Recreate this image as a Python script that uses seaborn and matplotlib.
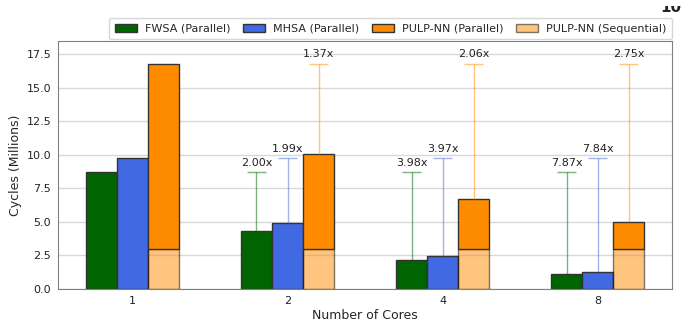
import numpy as np
import matplotlib
matplotlib.use("Agg")
import matplotlib.pyplot as plt
import seaborn as sns
from matplotlib.patches import Patch
from matplotlib.transforms import Bbox, TransformedBbox

# Cycle counts (millions) per number of cores
cores = ["1", "2", "4", "8"]
fwsa_parallel = [8.70, 4.35, 2.19, 1.11]
mhsa_parallel = [9.75, 4.90, 2.46, 1.24]
pulp_total = [16.80, 10.07, 6.69, 5.00]
pulp_sequential = [3.00, 3.00, 3.00, 3.00]

# Speed-up labels for 2, 4 and 8 cores
fwsa_speedup = ["2.00x", "3.98x", "7.87x"]
mhsa_speedup = ["1.99x", "3.97x", "7.84x"]
pulp_speedup = ["1.37x", "2.06x", "2.75x"]

sns.set_style("white")
plt.rcParams["font.family"] = ["DejaVu Sans"]
plt.rcParams["font.size"] = 8

fig = plt.figure(figsize=(6.91, 3.26), dpi=100)
ax = fig.add_axes([0.084, 0.1135, 0.8885, 0.7605])

idx = np.arange(len(cores))
bw = 0.2
edge = "#333333"
c_fwsa, c_mhsa, c_pulp = "darkgreen", "royalblue", "darkorange"

common = dict(native_scale=True, width=bw, orient="x", errorbar=None,
              saturation=1, linewidth=1, ax=ax)
sns.barplot(x=idx - bw, y=fwsa_parallel, color=c_fwsa, edgecolor=edge, **common)
sns.barplot(x=idx, y=mhsa_parallel, color=c_mhsa, edgecolor=edge, **common)
sns.barplot(x=idx + bw, y=pulp_sequential, color=c_pulp, edgecolor="black",
            alpha=0.5, **common)
sns.barplot(x=idx + bw, y=np.subtract(pulp_total, pulp_sequential),
            bottom=pulp_sequential, color=c_pulp, edgecolor=edge, **common)

# Speed-up whiskers: from each multi-core bar up to the single-core value
cap = 0.062
for off, vals, labels, col in [(-bw, fwsa_parallel, fwsa_speedup, c_fwsa),
                               (0.0, mhsa_parallel, mhsa_speedup, c_mhsa),
                               (bw, pulp_total, pulp_speedup, c_pulp)]:
    xs = idx[1:] + off
    base = vals[0]
    ax.vlines(xs, vals[1:], base, color=col, alpha=0.5, lw=1, zorder=1)
    ax.hlines([base] * len(xs), xs - cap, xs + cap, color=col, alpha=0.5, lw=1, zorder=1)
    for x, lab in zip(xs, labels):
        ax.annotate(lab, (x, base), xytext=(0, 3), textcoords="offset points",
                    ha="center", va="bottom", fontsize=8, color="#222222")

ax.set_xticks(idx, cores)
ax.set_ylim(0, max(pulp_total) * 1.1)
ax.set_xlim(-0.48, 3.48)
ax.set_xlabel("Number of Cores", fontsize=9, labelpad=2)
ax.set_ylabel("Cycles (Millions)", fontsize=9, labelpad=3)
ax.yaxis.grid(True, color="#d9d9d9", lw=1)
ax.set_axisbelow(True)
for s in ax.spines.values():
    s.set_color("#808080")
ax.tick_params(axis="both", length=3.5, width=0.8, color="#808080", colors="#222222",
               labelsize=8, pad=1.5)

handles = [Patch(facecolor=c_fwsa, edgecolor=edge, label="FWSA (Parallel)"),
           Patch(facecolor=c_mhsa, edgecolor=edge, label="MHSA (Parallel)"),
           Patch(facecolor=c_pulp, edgecolor=edge, label="PULP-NN (Parallel)"),
           Patch(facecolor=c_pulp, edgecolor="black", alpha=0.5,
                 label="PULP-NN (Sequential)")]
ax.legend(handles=handles, ncol=4, loc="lower right", bbox_to_anchor=(1.0, 1.008),
          borderaxespad=0, frameon=True, fontsize=8, columnspacing=1.15,
          handletextpad=0.7, borderpad=0.5)

# Partly visible heading at the top-right corner
t = fig.text(0.971, 1 - 12.5 / 326, "10", ha="center", va="baseline", fontsize=11,
             fontweight="bold", color="#222222")
t.set_clip_box(TransformedBbox(Bbox([[0.9, 1 - 13 / 326], [1.0, 1 - 6 / 326]]),
                               fig.transFigure))
t.set_clip_on(True)

fig.savefig("out.png", dpi=100)
